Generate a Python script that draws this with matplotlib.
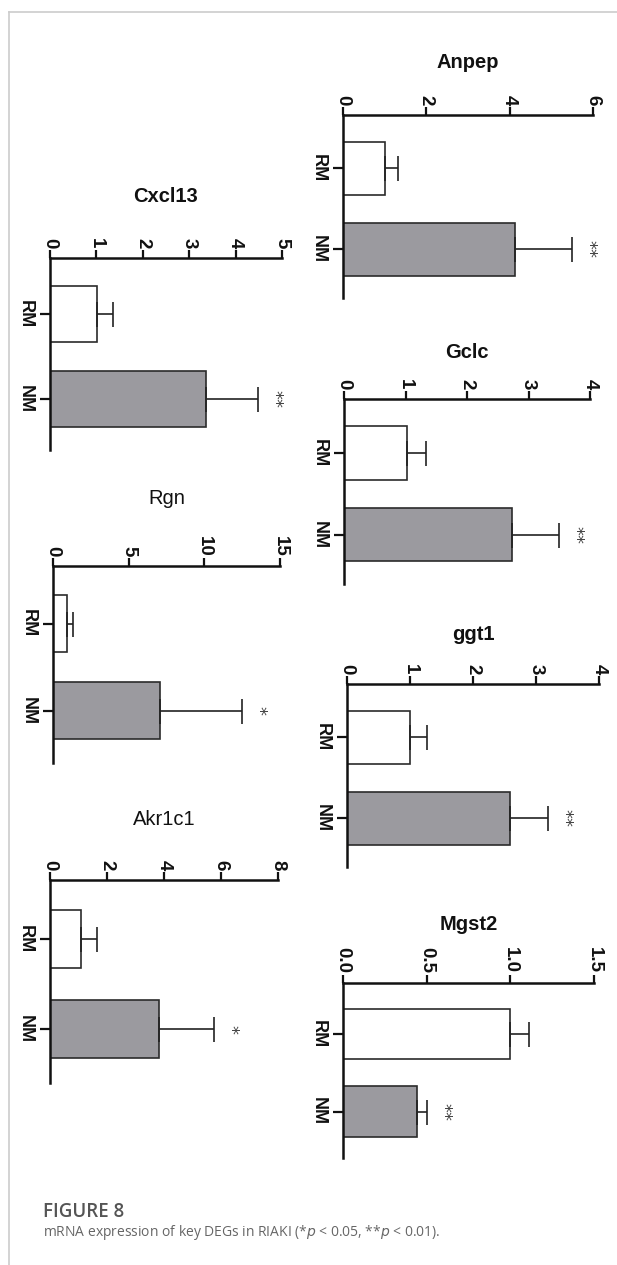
import matplotlib
matplotlib.use("Agg")
import matplotlib.pyplot as plt
from matplotlib.lines import Line2D
import numpy as np

# values (fold change, mean and upper SD)
genes = ["Anpep", "Gclc", "ggt1", "Mgst2", "Cxcl13", "Rgn", "Akr1c1"]
groups = ["RM", "NM"]
rm_mean = [1.00, 1.02, 1.00, 1.00, 1.01, 0.93, 1.09]
rm_err = [0.32, 0.31, 0.27, 0.11, 0.35, 0.37, 0.56]
nm_mean = [4.13, 2.73, 2.59, 0.44, 3.36, 7.10, 3.82]
nm_err = [1.37, 0.77, 0.60, 0.06, 1.12, 5.40, 1.93]
axis_max = [6, 4, 4, 1.5, 5, 15, 8]
tick_step = [2, 1, 1, 0.5, 1, 5, 2]
stars = ["**", "**", "**", "**", "**", "*", "*"]

W, H = 617, 1265
fig = plt.figure(figsize=(W / 100, H / 100), dpi=100)

# panel boxes in pixels: left, top, right, bottom
panel_px = [
    (343, 115, 593, 298),
    (344, 399, 590, 584),
    (347, 684, 599, 867),
    (343, 983, 594, 1158),
    (50, 258, 282, 450),
    (53, 566, 280, 763),
    (50, 880, 278, 1083),
]
title_gap = [53, 47, 49, 58, 61, 68, 61]   # px from axis line to title centre
title_weight = ["bold", "bold", "bold", "bold", "bold", "normal", "normal"]

sans = ["Liberation Sans", "DejaVu Sans"]

for i, g in enumerate(genes):
    l, t, r, b = panel_px[i]
    ax = fig.add_axes([l / W, 1 - b / H, (r - l) / W, (b - t) / H])

    ypos = np.arange(len(groups))
    means = [rm_mean[i], nm_mean[i]]
    errs = [rm_err[i], nm_err[i]]
    ax.barh(ypos, means, height=0.65, color=["white", "#9b9a9f"],
            edgecolor="#2b2b2b", linewidth=1.2, zorder=2)
    ax.errorbar(means, ypos, xerr=[[0, 0], errs], fmt="none", ecolor="#222222",
                elinewidth=1.2, capsize=9, capthick=1.2, zorder=3)

    # significance marks next to the NM error bar
    ax.annotate(stars[i], xy=(means[1] + errs[1], ypos[1]),
                xytext=(12, 0), textcoords="offset points",
                ha="center", va="center", rotation=-90,
                fontsize=13, color="#444444", family=["DejaVu Sans"])

    ax.set_xlim(0, axis_max[i])
    ax.set_ylim(1.6, -0.66)
    ticks = np.arange(0, axis_max[i] + tick_step[i] / 2, tick_step[i])
    ax.set_xticks(ticks)
    if tick_step[i] < 1:
        ax.set_xticklabels([f"{v:.1f}" for v in ticks])
    else:
        ax.set_xticklabels([f"{v:g}" for v in ticks])
    ax.set_yticks(ypos)
    ax.set_yticklabels(groups)

    ax.xaxis.tick_top()
    ax.tick_params(axis="x", top=True, bottom=False, labeltop=True, labelbottom=False,
                   direction="out", length=6, width=1.6, pad=1, color="#111111")
    ax.tick_params(axis="y", direction="out", length=7, width=1.6, pad=5, color="#111111")
    for lab in ax.get_xticklabels():
        lab.set_rotation(-90)
        lab.set_fontweight("bold")
        lab.set_fontsize(13.5)
        lab.set_family(sans)
        lab.set_color("#111111")
    for lab in ax.get_yticklabels():
        lab.set_rotation(-90)
        lab.set_fontweight("bold")
        lab.set_fontsize(13)
        lab.set_family(sans)
        lab.set_color("#111111")
        lab.set_va("center")

    for s in ["right", "bottom"]:
        ax.spines[s].set_visible(False)
    for s in ["top", "left"]:
        ax.spines[s].set_linewidth(1.8)
        ax.spines[s].set_color("#111111")

    ax.annotate(g, xy=(0.5, 1), xycoords="axes fraction",
                xytext=(0, title_gap[i] * 0.72), textcoords="offset points",
                ha="center", va="center", fontsize=14.5, fontweight=title_weight[i],
                family=sans, color="#111111")

# page frame
fig.add_artist(Line2D([9 / W, 1], [1 - 12 / H, 1 - 12 / H], color="#cccccc", lw=1.2))
fig.add_artist(Line2D([9 / W, 9 / W], [1 - 12 / H, 0], color="#cccccc", lw=1.2))

fig.text(43 / W, 1 - 1212 / H, "FIGURE 8", ha="left", va="center", fontsize=13.5,
         fontweight="semibold", color="#555555", family=["Open Sans", "DejaVu Sans"])
fig.text(43 / W, 1 - 1232 / H,
         "mRNA expression of key DEGs in RIAKI (*$p$ < 0.05, **$p$ < 0.01).",
         ha="left", va="center", fontsize=10, color="#666666",
         family=["Open Sans", "DejaVu Sans"])

fig.savefig("out.png", dpi=100, facecolor="white")
